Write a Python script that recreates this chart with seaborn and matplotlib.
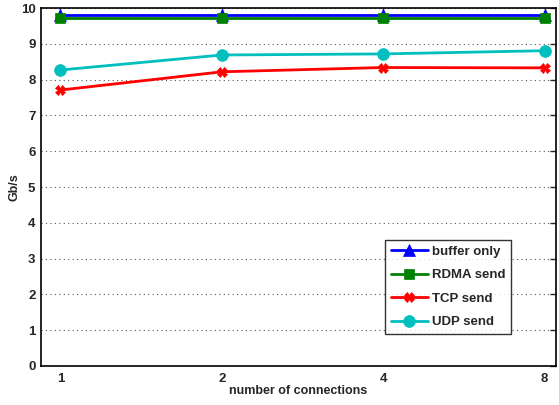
import matplotlib
matplotlib.use("Agg")
import matplotlib.pyplot as plt
import seaborn as sns
import pandas as pd

connections = ["1", "2", "4", "8"]
buffer_only = [9.80, 9.80, 9.80, 9.80]
rdma_send = [9.71, 9.71, 9.71, 9.71]
tcp_send = [7.71, 8.22, 8.34, 8.33]
udp_send = [8.27, 8.69, 8.72, 8.81]

series = {
    "buffer only": (buffer_only, "#0000ff", "^", 8),
    "RDMA send": (rdma_send, "#008000", "s", 6.5),
    "TCP send": (tcp_send, "#ff0000", "X", 7),
    "UDP send": (udp_send, "#00bfbf", "o", 8.5),
}

rows = []
for name, (vals, _, _, _) in series.items():
    for i, v in enumerate(vals):
        rows.append({"x": i, "Gb/s": v, "series": name})
df = pd.DataFrame(rows)

sns.set_style("white")
plt.rcParams["font.family"] = ["Liberation Sans", "DejaVu Sans"]
plt.rcParams["font.weight"] = "bold"

fig = plt.figure(figsize=(5.59, 4.05), dpi=100)
ax = fig.add_axes([0.0733, 0.0963, 0.9213, 0.8837])

for name, (vals, color, marker, msize) in series.items():
    sub = df[df["series"] == name]
    sns.lineplot(data=sub, x="x", y="Gb/s", ax=ax, color=color, marker=marker,
                 markersize=msize, linewidth=2, markeredgecolor=color,
                 markeredgewidth=0.5, label=name)

ax.set_xlim(-0.12, 3.07)
ax.set_ylim(0, 10)
ax.set_xticks(range(len(connections)))
ax.set_xticklabels(connections)
ax.set_yticks(range(0, 11))
ax.set_xlabel("number of connections", fontsize=9, fontweight="bold", labelpad=0)
ax.set_ylabel("Gb/s", fontsize=9, fontweight="bold")
ax.yaxis.set_label_coords(-0.04, 0.5)
ax.tick_params(axis="both", direction="in", labelsize=9.5, length=4, width=1,
               top=True, right=True)
ax.tick_params(axis="y", pad=4)
ax.tick_params(axis="x", pad=5)
for lbl in ax.get_xticklabels() + ax.get_yticklabels():
    lbl.set_fontweight("bold")
ax.yaxis.grid(True, linestyle=(0, (1, 3)), color="#555555", linewidth=0.8)
ax.xaxis.grid(False)
for sp in ax.spines.values():
    sp.set_color("black")
    sp.set_linewidth(1.2)

leg = ax.legend(loc="lower right", bbox_to_anchor=(0.913, 0.089), fontsize=9.5,
                frameon=True, fancybox=False, edgecolor="black", handlelength=2.8,
                borderpad=0.45, labelspacing=0.85, handletextpad=0.3,
                borderaxespad=0)
leg.get_frame().set_linewidth(1)
for t in leg.get_texts():
    t.set_fontweight("bold")

fig.savefig("out.png", dpi=100)
